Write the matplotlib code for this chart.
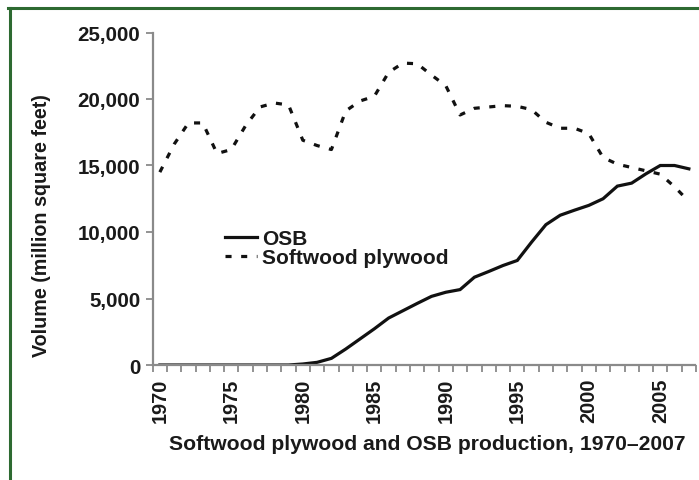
import matplotlib
matplotlib.use("Agg")
import matplotlib.pyplot as plt
from matplotlib.lines import Line2D
from matplotlib.ticker import FuncFormatter, MultipleLocator

# Production volume, million square feet
years = list(range(1970, 2008))
osb = [0, 0, 0, 0, 0, 0, 0, 0, 0, 0,
       75, 200, 500, 1200, 1960, 2720, 3530, 4080, 4630, 5160,
       5470, 5670, 6600, 7030, 7480, 7860, 9240, 10550, 11260, 11640,
       12000, 12500, 13450, 13675, 14375, 15000, 15000, 14750]
plywood = [14500, 16600, 18200, 18200, 15900, 16200, 18000, 19400, 19700, 19550,
           16900, 16500, 16200, 19100, 19850, 20200, 22000, 22700, 22650, 21800,
           21000, 18800, 19300, 19400, 19500, 19450, 19200, 18250, 17800, 17800,
           17400, 15600, 15100, 14850, 14600, 14350, 13400, 12300]
tick_years = [1970, 1975, 1980, 1985, 1990, 1995, 2000, 2005]
y_ticks = [0, 5000, 10000, 15000, 20000, 25000]

plt.rcParams['font.family'] = ['Liberation Sans', 'DejaVu Sans']
plt.rcParams['font.weight'] = 'bold'

W, H = 699, 481
fig = plt.figure(figsize=(W / 100, H / 100), dpi=100)
fig.patch.set_facecolor('white')

# axes box in pixels
left, right, top, bottom = 152.7, 696, 33.5, 366
ax = fig.add_axes([left / W, 1 - bottom / H, (right - left) / W, (bottom - top) / H])

ax.plot(years, osb, color='#111111', linewidth=2.3, solid_joinstyle='miter', label='OSB')
ax.plot(years, plywood, color='#111111', linewidth=2.3, dashes=(1.9, 3.0),
        dash_capstyle='butt', label='Softwood plywood')

ax.set_xlim(1969.5, 2007.5)
ax.set_ylim(0, 25000)

grey = '#8a8a8a'
text_col = '#1a1a1a'
for side in ['top', 'right']:
    ax.spines[side].set_visible(False)
for side in ['left', 'bottom']:
    ax.spines[side].set_color(grey)
    ax.spines[side].set_linewidth(1.6)
ax.spines['bottom'].set_bounds(1969.5, 2007.45)

ax.set_yticks(y_ticks)
ax.yaxis.set_major_formatter(FuncFormatter(lambda v, p: f"{int(v):,}"))
ax.tick_params(axis='y', length=5, width=1.3, color=grey, labelsize=14.8,
               labelcolor=text_col, pad=4)

ax.set_xticks(tick_years)
ax.set_xticklabels([str(y) for y in tick_years], rotation=90)
ax.xaxis.set_minor_locator(MultipleLocator(1, offset=0.5))
ax.tick_params(axis='x', which='major', length=0, labelsize=14.3, labelcolor=text_col, pad=9)
ax.tick_params(axis='x', which='minor', length=5, width=1.3, color=grey)

ax.set_ylabel('Volume (million square feet)', fontsize=14.2, fontweight='bold', color=text_col)
ax.yaxis.set_label_coords((51 - left) / (right - left), (bottom - 226) / (bottom - top))
fig.text(427 / W, 1 - 444 / H, 'Softwood plywood and OSB production, 1970\u20132007',
         ha='center', va='center', fontsize=15.2, fontweight='bold', color=text_col)

leg = ax.legend(loc='upper left', bbox_to_anchor=(0.133, 0.408), frameon=False,
                borderpad=0, borderaxespad=0, handlelength=1.55, handletextpad=0.22,
                labelspacing=0.0, prop={'size': 15, 'weight': 'bold'})
for t in leg.get_texts():
    t.set_color(text_col)

# green frame (right and bottom edges fall outside the picture)
green = '#2d6a31'
fig.add_artist(Line2D([9.5 / W, 9.5 / W], [0, 1 - 9 / H], color=green, linewidth=2.2,
                      transform=fig.transFigure))
fig.add_artist(Line2D([8.4 / W, 1], [1 - 9 / H, 1 - 9 / H], color=green, linewidth=2.2,
                      transform=fig.transFigure))

fig.savefig('out.png', dpi=100)
